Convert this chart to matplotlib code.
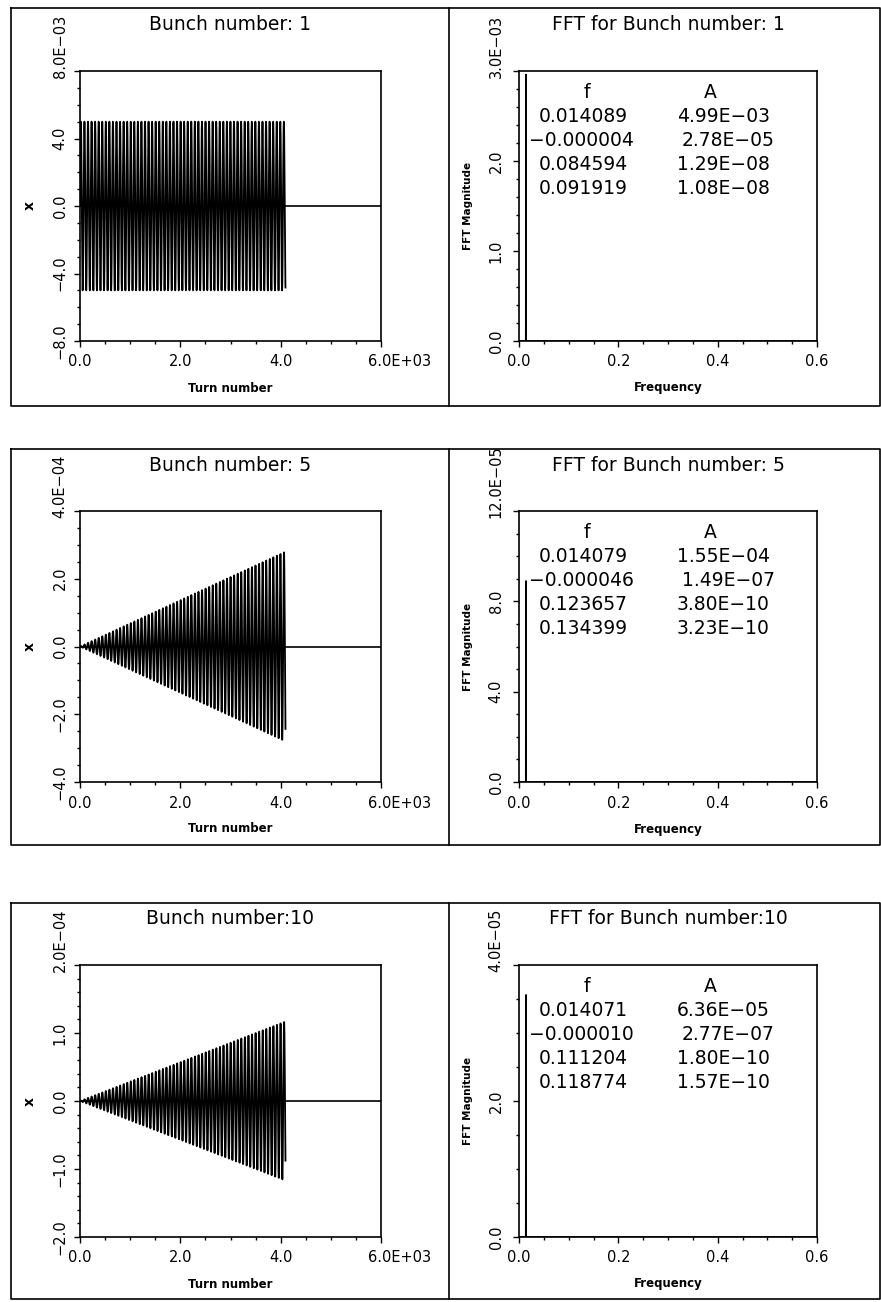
import numpy as np
import matplotlib.pyplot as plt
from matplotlib.ticker import MultipleLocator
from matplotlib.lines import Line2D

plt.rcParams['font.family'] = 'DejaVu Sans'

W, H = 881, 1302

# bunch tracking data
bunches = [1, 5, 10]
tunes = [0.014089, 0.014079, 0.014071]
n_turns = 4096
env_turns = [0, 4096]
env_amp = [
    [5.0e-3, 5.0e-3],
    [0.0, 2.8e-4],
    [0.0, 1.17e-4],
]

# FFT spectrum near the main line (two neighbouring bins)
fft_freq = [0.0, 0.013672, 0.013916, 0.014160, 0.014404, 0.6]
fft_mag = [
    [0.0, 0.0, 1.93e-3, 2.96e-3, 0.0, 0.0],
    [0.0, 0.0, 6.3e-5, 8.9e-5, 0.0, 0.0],
    [0.0, 0.0, 2.70e-5, 3.56e-5, 0.0, 0.0],
]

# peak table printed in each FFT panel
tab_f = [
    [0.014089, -0.000004, 0.084594, 0.091919],
    [0.014079, -0.000046, 0.123657, 0.134399],
    [0.014071, -0.000010, 0.111204, 0.118774],
]
tab_a = [
    ['4.99E−03', '2.78E−05', '1.29E−08', '1.08E−08'],
    ['1.55E−04', '1.49E−07', '3.80E−10', '3.23E−10'],
    ['6.36E−05', '2.77E−07', '1.80E−10', '1.57E−10'],
]

# axis settings per row
x_ylim = [8e-3, 4e-4, 2e-4]
x_ymajor = [4e-3, 2e-4, 1e-4]
x_yminor = [1e-3, 0.5e-4, 0.2e-4]
x_exp = [-3, -4, -4]
f_ylim = [3e-3, 12e-5, 4e-5]
f_ymajor = [1e-3, 4e-5, 2e-5]
f_yminor = [0.2e-3, 1e-5, 0.5e-5]
f_exp = [-3, -5, -5]

# layout in pixels
row_box = [(8, 406), (449, 845), (903, 1299)]
row_ax = [(71, 341), (511, 782), (965, 1237)]
left_x = (80, 381)
right_x = (519, 817)


def fx(x):
    return x / W


def fy(y):
    return 1 - y / H


def pt(px):
    return px * 0.72


def fmt(v, scale):
    s = f'{v / scale:.1f}'
    return s.replace('-', '−')


def style_axes(ax):
    for sp in ax.spines.values():
        sp.set_linewidth(1.2)
    ax.tick_params(which='both', direction='out', width=1.0,
                   top=False, right=False, labelleft=False, labelbottom=False)
    ax.tick_params(which='major', length=4.5)
    ax.tick_params(which='minor', length=2.5)


def tick_labels(ax, xt, xl, yt, yl, ypad):
    for i, (v, s) in enumerate(zip(xt, xl)):
        last = i == len(xt) - 1 and 'E' in s
        ax.annotate(s, xy=(v, 0), xycoords=ax.get_xaxis_transform(),
                    xytext=(pt(-13) if last else 0, pt(-21)),
                    textcoords='offset points', ha='left' if last else 'center',
                    va='center', fontsize=10.5)
    for i, (v, s) in enumerate(zip(yt, yl)):
        last = i == len(yt) - 1
        ax.annotate(s, xy=(0, v), xycoords=ax.get_yaxis_transform(),
                    xytext=(pt(-ypad), pt(-7) if last else 0),
                    textcoords='offset points', rotation=90,
                    ha='center', va='bottom' if last else 'center', fontsize=10.5)


fig = plt.figure(figsize=(W / 100, H / 100), dpi=100)

# panel frames
for top, bot in row_box:
    xs = [fx(11), fx(880), fx(880), fx(11), fx(11)]
    ys = [fy(top), fy(top), fy(bot), fy(bot), fy(top)]
    fig.add_artist(Line2D(xs, ys, transform=fig.transFigure, color='black', lw=1.2))
    fig.add_artist(Line2D([fx(449), fx(449)], [fy(top), fy(bot)],
                          transform=fig.transFigure, color='black', lw=1.2))

turns = np.arange(n_turns + 1)

for r in range(3):
    top, bot = row_ax[r]

    # turn-by-turn position
    ax = fig.add_axes([fx(left_x[0]), fy(bot), fx(left_x[1] - left_x[0]), (bot - top) / H])
    env = np.interp(turns, env_turns, env_amp[r])
    x = env * np.sin(2 * np.pi * tunes[r] * turns)
    ax.plot(turns, x, color='black', lw=1.3)
    ax.axhline(0, color='black', lw=1.2)
    ax.set_xlim(0, 6000)
    ax.set_ylim(-x_ylim[r], x_ylim[r])
    ax.xaxis.set_major_locator(MultipleLocator(2000))
    ax.xaxis.set_minor_locator(MultipleLocator(500))
    ax.yaxis.set_major_locator(MultipleLocator(x_ymajor[r]))
    ax.yaxis.set_minor_locator(MultipleLocator(x_yminor[r]))
    style_axes(ax)
    xt = [0, 2000, 4000, 6000]
    xl = [fmt(v, 1e3) for v in xt]
    xl[-1] += 'E+03'
    yt = list(np.arange(-x_ylim[r], x_ylim[r] * 1.0001, x_ymajor[r]))
    sc = 10.0 ** x_exp[r]
    yl = [fmt(v, sc) for v in yt]
    yl[-1] += f'E−{abs(x_exp[r]):02d}'
    tick_labels(ax, xt, xl, yt, yl, 20)

    fig.text(fx(sum(left_x) / 2), fy(top - 46), f'Bunch number:{bunches[r]:2d}',
             ha='center', va='center', fontsize=13.5)
    fig.text(fx(30), fy((top + bot) / 2), 'x', rotation=90, ha='center', va='center',
             fontsize=10, fontweight='bold')
    fig.text(fx(sum(left_x) / 2), fy(bot + 47), 'Turn number', ha='center', va='center',
             fontsize=8.5, fontweight='bold')

    # FFT spectrum
    ax = fig.add_axes([fx(right_x[0]), fy(bot), fx(right_x[1] - right_x[0]), (bot - top) / H])
    ax.plot(fft_freq, fft_mag[r], color='black', lw=1.2)
    ax.set_xlim(0, 0.6)
    ax.set_ylim(0, f_ylim[r])
    ax.xaxis.set_major_locator(MultipleLocator(0.2))
    ax.xaxis.set_minor_locator(MultipleLocator(0.05))
    ax.yaxis.set_major_locator(MultipleLocator(f_ymajor[r]))
    ax.yaxis.set_minor_locator(MultipleLocator(f_yminor[r]))
    style_axes(ax)
    xt = [0, 0.2, 0.4, 0.6]
    xl = [f'{v:.1f}' for v in xt]
    yt = list(np.arange(0, f_ylim[r] * 1.0001, f_ymajor[r]))
    sc = 10.0 ** f_exp[r]
    yl = [fmt(v, sc) for v in yt]
    yl[-1] += f'E−{abs(f_exp[r]):02d}'
    tick_labels(ax, xt, xl, yt, yl, 23)

    fig.text(fx(sum(right_x) / 2), fy(top - 46), f'FFT for Bunch number:{bunches[r]:2d}',
             ha='center', va='center', fontsize=13.5)
    fig.text(fx(468), fy((top + bot) / 2), 'FFT Magnitude', rotation=90, ha='center',
             va='center', fontsize=7.5, fontweight='bold')
    fig.text(fx(sum(right_x) / 2), fy(bot + 47), 'Frequency', ha='center', va='center',
             fontsize=8.5, fontweight='bold')

    # peak table
    ax.annotate('f', xy=(0, 1), xycoords='axes fraction', xytext=(pt(587 - right_x[0]), pt(-22)),
                textcoords='offset points', ha='center', va='center', fontsize=13.5)
    ax.annotate('A', xy=(0, 1), xycoords='axes fraction', xytext=(pt(710 - right_x[0]), pt(-22)),
                textcoords='offset points', ha='center', va='center', fontsize=13.5)
    for i, (f, a) in enumerate(zip(tab_f[r], tab_a[r])):
        y_off = pt(-46 - 24 * i)
        fs = f'{f:.6f}'.replace('-', '−')
        neg = f < 0
        ax.annotate(fs, xy=(0, 1), xycoords='axes fraction',
                    xytext=(pt(539 - right_x[0] - (10 if neg else 0)), y_off),
                    textcoords='offset points', ha='left', va='center', fontsize=13.5)
        ax.annotate(a, xy=(0, 1), xycoords='axes fraction',
                    xytext=(pt(677 - right_x[0] + (5 if neg else 0)), y_off),
                    textcoords='offset points', ha='left', va='center', fontsize=13.5)

fig.savefig('out.png', dpi=100)
